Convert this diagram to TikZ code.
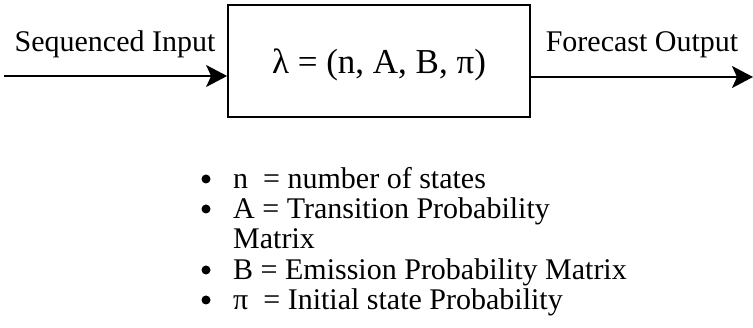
\documentclass[tikz,border=0pt]{standalone}
\usepackage{fontspec}
\setmainfont{Liberation Serif}
\usepackage{tikz}
\usetikzlibrary{arrows.meta,positioning}

\begin{document}
\begin{tikzpicture}[
  x=1pt, y=-1pt,
  every node/.style={font=\fontsize{30}{36}\selectfont, inner sep=0pt},
  model/.style={draw, line width=1.8pt, minimum width=302pt, minimum height=112pt, text height=32pt, font=\fontsize{35}{42}\selectfont},
  lbl/.style={anchor=base},
  item/.style={anchor=base west},
  dot/.style={circle, fill, minimum size=9pt},
  arr/.style={line width=1.8pt, -{Stealth[length=21pt,width=22pt,inset=5pt]}},
]
\useasboundingbox (0,0) rectangle (753,328);

\node[model] (hmm) at (379,61) {λ = (n, A, B, π)};
\coordinate (in) at (4,76);
\coordinate (out) at (753,77);
\node[lbl] (inlbl) at (115,52) {Sequenced Input};
\node[lbl] (outlbl) at (642,52) {Forecast Output};

\draw[arr] (in) -- (in -| hmm.west);
\draw[arr] (out -| hmm.east) -- (out);

% parameter list
\foreach \y/\txt [count=\i] in {189/{n \ = number of states},
    219/{A = Transition Probability},
    280/{B = Emission Probability Matrix},
    310/{π \ = Initial state Probability}} {
  \node[dot] (dot\i) at (206,\y-10) {};
  \node[item] (par\i) at (233,\y) {\txt};
}
\node[item] (par2b) at (233,249) {Matrix};

\end{tikzpicture}
\end{document}
